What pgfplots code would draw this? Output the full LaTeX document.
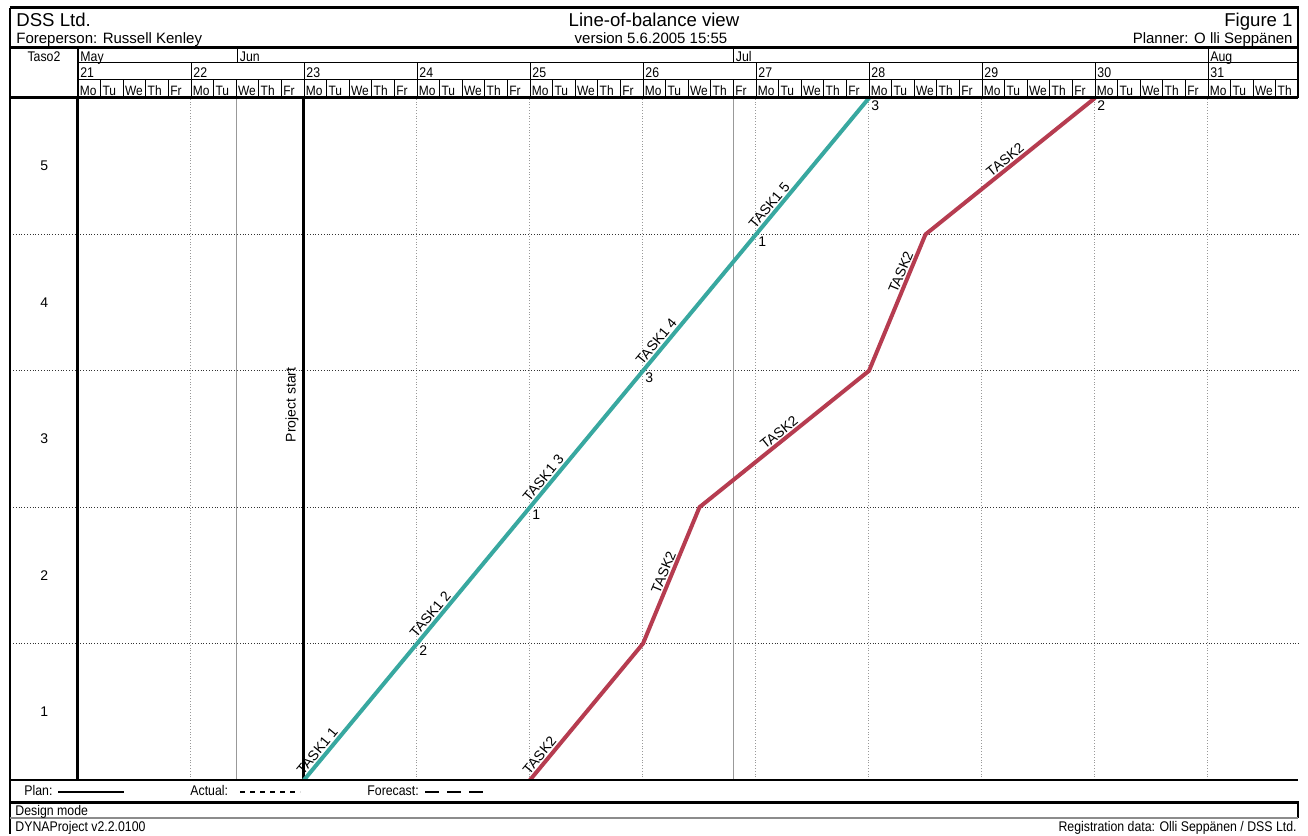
\documentclass[border=0pt]{standalone}
\usepackage{fontspec}
\setmainfont{Liberation Sans}
\newfontfamily\cond[FakeStretch=0.88]{Liberation Sans}
\usepackage{pgfplots}
\pgfplotsset{compat=1.18}

\definecolor{lobteal}{RGB}{56,168,160}
\definecolor{lobred}{RGB}{182,60,80}

\newcommand\fs[1]{\fontsize{#1}{#1}\selectfont}

\begin{document}
\begin{tikzpicture}[
  lab/.style={anchor=base west, inner sep=0pt, font=\cond\fs{7}},
  task/.style={font=\fs{7}, inner sep=1.5pt, sloped}
]
% whole sheet, in reference pixels (1px = 0.5pt, y downwards)
\begin{scope}[shift={(-5.1pt,390pt)}, x=0.5pt, y=-0.5pt]
  \useasboundingbox (0,0) rectangle (1308,836);
\end{scope}

\begin{axis}[
  at={(0,0)}, anchor=south west,
  scale only axis,
  width=644.1pt, height=341pt,
  xmin=-3, xmax=54, ymin=0, ymax=5,
  axis line style={draw=none},
  tick style={draw=none},
  xtick={5,15,20,25,30,35,40,45,50},
  xticklabel=\empty,
  extra x ticks={7,29},
  extra x tick labels={},
  extra x tick style={major grid style={solid, black!40, line width=0.5pt}},
  xmajorgrids,
  major grid style={densely dotted, black!40, line width=0.5pt},
  ytick={0.5,1.5,2.5,3.5,4.5},
  yticklabels={1,2,3,4,5},
  yticklabel style={font=\fs{7}, anchor=center, xshift=17pt},
  minor ytick={1,2,3,4},
  yminorgrids,
  minor grid style={densely dotted, black!80, line width=0.5pt},
]
% left column border and project start
\addplot[black, line width=1.5pt] coordinates {(0,0) (0,5)};
\addplot[black, line width=1.5pt] coordinates {(10,0) (10,5)}
  node[pos=0.55, sloped, anchor=south, font=\fs{7}, inner sep=2pt] {Project start};

% TASK1
\addplot[lobteal, line width=2pt, line join=round]
  coordinates {(10,0) (15,1) (20,2) (25,3) (30,4) (35,5)};
% TASK2
\addplot[lobred, line width=2pt, line join=round]
  coordinates {(20,0) (25,1) (27.5,2) (35,3) (37.5,4) (45,5)};

% labels along the segments
\addplot[draw=none] coordinates {(10,0) (15,1)} node[task, pos=0, anchor=south west] {TASK1 1};
\addplot[draw=none] coordinates {(15,1) (20,2)} node[task, pos=0, anchor=south west] {TASK1 2};
\addplot[draw=none] coordinates {(20,2) (25,3)} node[task, pos=0, anchor=south west] {TASK1 3};
\addplot[draw=none] coordinates {(25,3) (30,4)} node[task, pos=0, anchor=south west] {TASK1 4};
\addplot[draw=none] coordinates {(30,4) (35,5)} node[task, pos=0, anchor=south west] {TASK1 5};

\addplot[draw=none] coordinates {(20,0) (25,1)} node[task, pos=0, anchor=south west] {TASK2};
\addplot[draw=none] coordinates {(25,1) (27.5,2)} node[task, pos=0.5, anchor=south] {TASK2};
\addplot[draw=none] coordinates {(27.5,2) (35,3)} node[task, pos=0.5, anchor=south] {TASK2};
\addplot[draw=none] coordinates {(35,3) (37.5,4)} node[task, pos=0.7, anchor=south] {TASK2};
\addplot[draw=none] coordinates {(37.5,4) (45,5)} node[task, pos=0.5, anchor=south] {TASK2};

% quantities at the vertices
\addplot[draw=none, mark=none, nodes near coords, point meta=explicit symbolic,
  nodes near coords style={anchor=north west, font=\fs{7}, inner sep=1pt}]
  coordinates {(15,1)[2] (20,2)[1] (25,3)[3] (30,4)[1] (35,5)[3] (45,5)[2]};
\end{axis}

\begin{scope}[shift={(-5.1pt,390pt)}, x=0.5pt, y=-0.5pt]
  % outer frame and header rules
  \draw[line width=1.5pt] (9.5,8) -- (1298.5,8);
  \draw[line width=0.7pt] (10,8) -- (10,834);
  \draw[line width=0.7pt] (1298,8) -- (1298,98);
  \draw[line width=1.5pt] (10,47.5) -- (1298,47.5);
  \draw[line width=1.5pt] (10,98) -- (1298,98);
  \draw[line width=0.5pt] (78,63) -- (1298,63);
  \draw[line width=0.5pt] (78,80) -- (1298,80);
  \draw[line width=1pt] (78,47.5) -- (78,98);
  \foreach \x in {237.2,733.4,1208} \draw[line width=0.5pt] (\x,47.5) -- (\x,63);
  \foreach \i in {1,...,10} \draw[line width=0.5pt] ({78+113*\i},63) -- ({78+113*\i},80);
  \foreach \i in {1,...,53} \draw[line width=0.5pt] ({78+22.6*\i},80) -- ({78+22.6*\i},98);

  % titles
  \node[anchor=base west, inner sep=0pt, font=\fs{9.3}] at (16,27) {DSS Ltd.};
  \node[anchor=base west, inner sep=0pt, font=\fs{7.5}] at (16,43.5) {Foreperson: Russell Kenley};
  \node[anchor=base, inner sep=0pt, font=\fs{9.3}] at (654,27) {Line-of-balance view};
  \node[anchor=base, inner sep=0pt, font=\fs{7.5}] at (651,43.5) {version 5.6.2005 15:55};
  \node[anchor=base east, inner sep=0pt, font=\fs{9.3}] at (1293,27) {Figure 1};
  \node[anchor=base east, inner sep=0pt, font=\fs{7.5}] at (1293,43.5) {Planner: O lli Seppänen};

  % calendar
  \node[anchor=base, inner sep=0pt, font=\cond\fs{7}] at (44,61.5) {Taso2};
  \node[lab] at (80,61.5) {May};
  \node[lab] at (239.5,61.5) {Jun};
  \node[lab] at (735.5,61.5) {Jul};
  \node[lab] at (1210,61.5) {Aug};
  \foreach \k [count=\i from 0] in {21,...,31}
    \node[lab] at ({78+113*\i+2},78) {\k};
  \foreach \w in {0,...,10} {
    \foreach \n [count=\i from 0] in {Mo,Tu,We,Th,Fr} {
      \pgfmathsetmacro\dd{5*\w+\i}
      \ifdim \dd pt<54pt
        \node[lab, font=\cond\fs{6.8}] at ({78+22.6*\dd+1.5},95.5) {\n};
      \fi
    }
  }

  % legend row and footer
  \draw[line width=0.8pt] (10,780) -- (1298,780);
  \node[lab] at (24,796) {Plan:};
  \draw[line width=1.2pt] (58,792) -- (124,792);
  \node[lab] at (190,796) {Actual:};
  \draw[line width=1.2pt, dash pattern=on 2.5pt off 2.5pt] (240,792) -- (300,792);
  \node[lab] at (367,796) {Forecast:};
  \draw[line width=1.2pt, dash pattern=on 7pt off 4pt] (425,792) -- (486,792);
  \draw[line width=1.5pt] (10,802) -- (1298.5,802);
  \draw[line width=0.7pt] (1298,802) -- (1298,818);
  \draw[line width=1.2pt, black!45] (10,818) -- (1298,818);
  \node[lab] at (15,815.5) {Design mode};
  \node[lab] at (15,831.5) {DYNAProject v2.2.0100};
  \node[anchor=base east, inner sep=0pt, font=\cond\fs{7}] at (1297,831.5) {Registration data: Olli Seppänen / DSS Ltd.};
\end{scope}
\end{tikzpicture}
\end{document}
